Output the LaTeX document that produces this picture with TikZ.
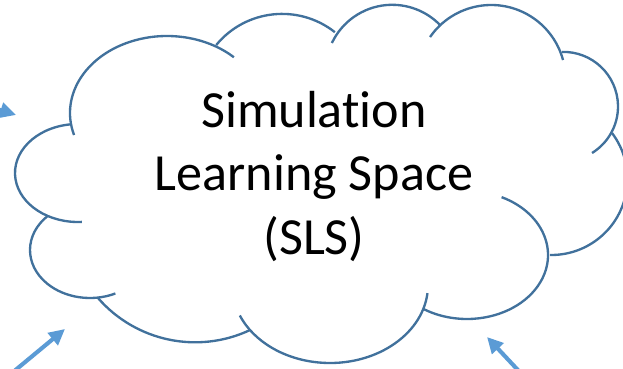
\documentclass[tikz,border=0pt]{standalone}
\usepackage{fontspec}
\setmainfont{Carlito}[Ligatures=NoCommon]
\usepackage{tikz}
\usetikzlibrary{arrows.meta}
\definecolor{cloudline}{HTML}{41719C}
\definecolor{feed}{HTML}{5B9BD5}
\begin{document}
\begin{tikzpicture}[x=0.03cm,y=-0.03cm,
  lobe/.style={draw=cloudline,line width=2pt},
  slstext/.style={font=\fontsize{44.5}{54}\selectfont,anchor=base,inner sep=0pt},
  feedarr/.style={-{Triangle[length=0.48cm,width=0.46cm]},draw=feed,line width=3.5pt}]
  \useasboundingbox (0,0) rectangle (623,369);
  \clip (0,0) rectangle (623,369);
  % ---- cloud outline, one arc per lobe (centre / radii / angles)
  \foreach \cx/\cy/\rx/\ry/\a/\b in {167/113/97/77/163.4/313.6,
      282.1/99.2/85.3/85.3/219.4/308.2, 392.2/71.5/66.7/66.7/205.3/315.8,
      491.2/79.4/74.4/74.4/214.7/344.9, 563.4/106.5/54.6/54.6/268.5/418.4,
      551.3/178.9/76.1/76.1/-37.1/91, 467/255/81/64/-64.7/122.3,
      330/285/98/78/6/157, 195.2/213.5/128.8/128.8/139/64.8,
      90/250/60/48/225.5/65, 78/173/63/49/262.6/86.4}
    \draw[lobe] ({\cx+\rx*cos(\a)},{\cy+\ry*sin(\a)})
      arc[start angle=\a,end angle=\b,x radius=\rx,y radius=\ry];
  % ---- text
  \node[slstext] (sim)   at (314,127)   {Simulation};
  \node[slstext] (learn) at (314,190.5) {Learning Space};
  \node[slstext] (abbr)  at (314,254)   {(SLS)};
  % ---- incoming arrows
  \coordinate (srcW)  at (-41,97);  \coordinate (tipW)  at (16,115);
  \coordinate (srcSW) at (-5,387);  \coordinate (tipSW) at (65,329);
  \coordinate (srcSE) at (530,383); \coordinate (tipSE) at (487,337);
  \draw[feedarr] (srcW) -- (tipW);
  \draw[feedarr] (srcSW) -- (tipSW);
  \draw[feedarr] (srcSE) -- (tipSE);
\end{tikzpicture}
\end{document}
